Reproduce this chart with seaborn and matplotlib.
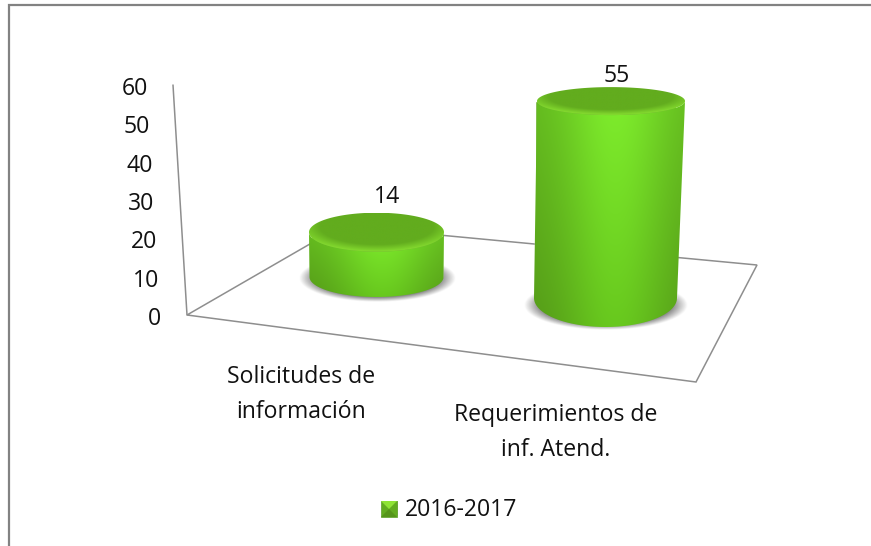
import numpy as np
import pandas as pd
import matplotlib
matplotlib.use("Agg")
import matplotlib.pyplot as plt
from matplotlib.patches import Polygon
from matplotlib.transforms import Affine2D
import seaborn as sns

categories = ["Solicitudes de\ninformación", "Requerimientos de\ninf. Atend."]
values = [14, 55]
series = ["2016-2017"]
y_ticks = [0, 10, 20, 30, 40, 50, 60]

W, H = 871, 546
sns.set_theme(style="white")
plt.rcParams["font.family"] = ["Open Sans", "DejaVu Sans"]
TXT = "#111111"
FS = 16.6

fig = plt.figure(figsize=(W / 100, H / 100), dpi=100, facecolor="white")
bg = fig.add_axes([0, 0, 1, 1], zorder=0)
bg.set_xlim(0, W); bg.set_ylim(H, 0); bg.axis("off")
ax = fig.add_axes([258.5 / W, 1 - 316 / H, 470 / W, 230 / H], zorder=1)
ax.patch.set_alpha(0)

df = pd.DataFrame({"cat": categories, "val": values, "serie": series[0]})
sns.barplot(data=df, x="cat", y="val", hue="serie", palette=["#6fc522"], dodge=False,
            width=0.5, ax=ax, errorbar=None, legend=True)
ax.set_xlim(-0.5, 1.5); ax.set_ylim(0, 60)
ax.set_xlabel(""); ax.set_ylabel("")
ax.set_yticks(y_ticks)
sns.despine(ax=ax, left=True, bottom=True)
ax.tick_params(length=0, pad=0, labelsize=FS, labelcolor=TXT)

# slanted value axis: labels follow the wall edge
for lab, t in zip(ax.get_yticklabels(), y_ticks):
    lab.set_transform(lab.get_transform() + Affine2D().translate(-97.5 - t * 0.215, 0))
    lab.set_ha("right")
# floor perspective: category labels sit below the front edge
for lab, (dx, dy) in zip(ax.get_xticklabels(), [(-75, -49), (-55, -87)]):
    lab.set_transform(lab.get_transform() + Affine2D().translate(dx, dy))
    lab.set_linespacing(1.59); lab.set_ha("center")

sns.move_legend(ax, "center", bbox_to_anchor=(449.5 / W, 1 - 510 / H),
                bbox_transform=fig.transFigure, frameon=False, title=None,
                fontsize=FS, handlelength=0.69, handleheight=0.69,
                handletextpad=0.3, borderpad=0)
for t in ax.get_legend().get_texts():
    t.set_color(TXT)

# frame and floor
frame = "#828282"
bg.plot([9, 9, W], [H, 5, 5], color=frame, lw=1.6, solid_joinstyle="miter")
floor = [(187, 315), (341.4, 225.8), (757, 265), (696, 382)]
bg.add_patch(Polygon(floor, closed=True, fill=False, ec="#8e8e8e", lw=1.1))
bg.plot([173, 187], [85, 315], color="#8e8e8e", lw=1.1)


def shadow(cx, cy, rx, ry):
    x = np.linspace(cx - rx, cx + rx, 300)
    y = np.linspace(cy - ry, cy + ry, 120)
    X, Y = np.meshgrid(x, y)
    r = np.hypot((X - cx) / rx, (Y - cy) / ry)
    a = np.clip((1 - r) / 0.2, 0, 1) * 0.75
    img = np.dstack([np.full_like(a, 0.35)] * 3 + [a])
    bg.imshow(img, extent=(cx - rx, cx + rx, cy + ry, cy - ry), aspect="auto",
              interpolation="bilinear", zorder=2)


def arc(cx, cy, rx, ry, a0, a1, n=80):
    t = np.linspace(a0, a1, n)
    return np.c_[cx + rx * np.cos(t), cy + ry * np.sin(t)]


def mix(a, b, t):
    a, b = np.array(a) / 255, np.array(b) / 255
    return a + (b - a) * t[..., None]


def cylinder(cxb, yb, rxb, ryb, cxt, yt, rxt, ryt):
    xmin, xmax = min(cxb - rxb, cxt - rxt), max(cxb + rxb, cxt + rxt)
    ymin, ymax = yt - ryt - 1, yb + ryb + 1
    x = np.linspace(xmin, xmax, 300)
    y = np.linspace(ymin, ymax, 300)
    X, Y = np.meshgrid(x, y)
    u = (X - xmin) / (xmax - xmin)
    v = (Y - yt) / (yb + ryb - yt)
    glow = np.exp(-((u - 0.54) / 0.36) ** 2)
    top_col = mix((98, 182, 30), (126, 236, 44), glow)
    low_col = mix((84, 152, 24), (104, 200, 30), glow)
    img = top_col + (low_col - top_col) * np.clip(v, 0, 1)[..., None]
    body = np.vstack([[(cxt - rxt, yt)], arc(cxb, yb, rxb, ryb, np.pi, 0), [(cxt + rxt, yt)],
                      arc(cxt, yt, rxt, ryt, 0, np.pi)])
    clip = Polygon(body, closed=True, transform=bg.transData)
    im = bg.imshow(img, extent=(xmin, xmax, ymax, ymin), aspect="auto",
                   interpolation="bilinear", zorder=4)
    im.set_clip_path(clip)
    # top cap: darker centre, light rim mostly along the front
    xt = np.linspace(cxt - rxt, cxt + rxt, 300)
    yy = np.linspace(yt - ryt, yt + ryt, 120)
    XT, YT = np.meshgrid(xt, yy)
    r = np.hypot((XT - cxt) / (rxt * 1.02), (YT - (yt - 0.3 * ryt)) / (ryt * 1.12))
    k = np.clip((r - 0.82) / 0.3, 0, 1)
    cap = mix((98, 172, 30), (130, 216, 46), k)
    clip2 = Polygon(arc(cxt, yt, rxt, ryt, 0, 2 * np.pi, 160), closed=True, transform=bg.transData)
    im2 = bg.imshow(cap, extent=(cxt - rxt, cxt + rxt, yt + ryt, yt - ryt), aspect="auto",
                    interpolation="bilinear", zorder=5)
    im2.set_clip_path(clip2)


# perspective placement per bar, driven by bar values from the seaborn axes
place = [
    dict(scale=3.2, cxb=376.5, yb=277, rxb=67, ryb=20, dtop=0.0, rxt=67.5, ryt=19.5, sh=(376.5, 278, 78, 24), lab=(387, 197)),
    dict(scale=3.58, cxb=605.5, yb=298, rxb=71.5, ryb=29, dtop=5.5, rxt=74, ryt=14, sh=(605.5, 305, 82, 25), lab=(617, 76)),
]
bars = [p for p in ax.patches if p.get_height() > 0]
for b, p, val in zip(bars, place, values):
    x0 = b.get_x() + b.get_width() / 2
    h = b.get_height()
    ytop = p["yb"] - h * p["scale"]
    # seaborn bar mapped into the projected position
    sx = 2 * min(p["rxb"], p["rxt"]) / b.get_width() * 0.98
    tr = Affine2D().translate(-x0, 0).scale(sx, -p["scale"]).translate(p["cxb"], p["yb"])
    b.remove()
    bg.add_patch(b)
    b.set_transform(tr + bg.transData)
    b.set_zorder(3)
    shadow(*p["sh"])
    cylinder(p["cxb"], p["yb"], p["rxb"], p["ryb"], p["cxb"] + p["dtop"], ytop, p["rxt"], p["ryt"])
    bg.text(*p["lab"], str(val), ha="center", va="center", fontsize=FS, color=TXT, zorder=6)

bg.set_xlim(0, W); bg.set_ylim(H, 0)

# legend key bevel
lx0, lx1, ly0, ly1 = 381, 397, 501, 517
bg2 = fig.add_axes([0, 0, 1, 1], zorder=2); bg2.set_xlim(0, W); bg2.set_ylim(H, 0); bg2.axis("off")
bg2.add_patch(Polygon([(lx0, ly0), (lx1, ly0), (lx1, ly1), (lx0, ly1)], fc="#62ac20", ec="#6aa83a", lw=0.6))
bg2.add_patch(Polygon([(lx0, ly0), (lx1, ly0), (389, 509)], fc="#8fe336", ec="none"))
bg2.add_patch(Polygon([(lx0, ly1), (lx1, ly1), (389, 509)], fc="#55951a", ec="none"))

fig.savefig("out.png", dpi=100)
